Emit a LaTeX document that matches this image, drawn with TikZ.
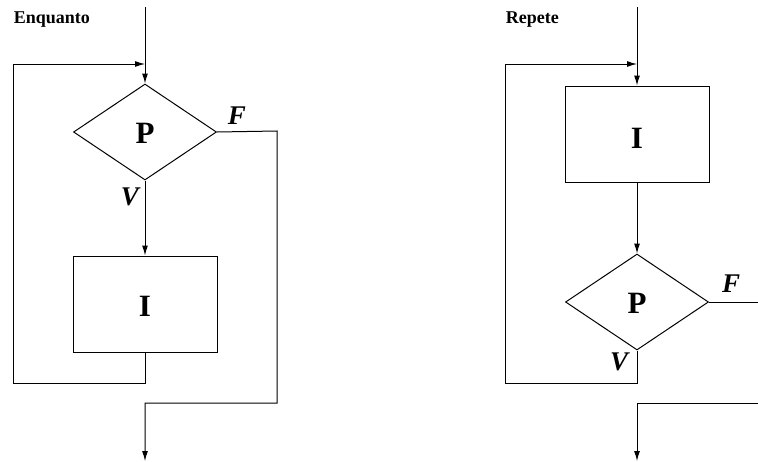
\documentclass[tikz,border=0pt]{standalone}
\usepackage{fontspec}
\setmainfont{Liberation Serif}
\usetikzlibrary{shapes.geometric,arrows.meta}
\begin{document}
\begin{tikzpicture}[x=1pt,y=-1pt,line width=1pt,
  arr/.style={-{Latex[length=10pt,width=6pt]}},
  dec/.style={draw,diamond,inner sep=0pt,minimum width=143pt,minimum height=96pt},
  blk/.style={draw,rectangle,inner sep=0pt,minimum width=144pt,minimum height=96pt},
  big/.style={font=\fontsize{31}{31}\selectfont\bfseries},
  lab/.style={font=\fontsize{27}{27}\selectfont\bfseries\itshape},
  ttl/.style={font=\fontsize{18}{18}\selectfont\bfseries,anchor=west}]
\useasboundingbox (0,0) rectangle (758,461);
% ---- Enquanto ----
\node[ttl] (t1) at (10,20) {Enquanto};
\node[dec] (d1) at (145,132) {};
\node[big] (p1) at (145,133) {P};
\node[blk] (b1) at (145,304) {};
\node[big] (i1) at (145,306) {I};
\node[lab] (f1) at (237,116) {F};
\node[lab] (v1) at (130,197) {V};
\coordinate (s1) at (145,7);
\coordinate (r1) at (13,383);
\coordinate (r2) at (13,64);
\coordinate (r3) at (145,64);
\coordinate (e1) at (277,131);
\coordinate (e2) at (277,403);
\coordinate (e3) at (145,403);
\coordinate (e4) at (145,461);
\draw[arr] (s1) -- (d1.north);
\draw[arr] (d1.south) -- (b1.north);
\draw[arr] (b1.south) |- (r1) -- (r2) -- (r3);
\draw[arr] (d1.east) -- (e1) -- (e2) -- (e3) -- (e4);
% ---- Repete ----
\node[ttl] (t2) at (502,20) {Repete};
\node[blk] (b2) at (637,134) {};
\node[big] (i2) at (637,138) {I};
\node[dec] (d2) at (637,302) {};
\node[big] (p2) at (637,303) {P};
\node[lab] (f2) at (731,284) {F};
\node[lab] (v2) at (619,362) {V};
\coordinate (s2) at (637,7);
\coordinate (q1) at (505,383);
\coordinate (q2) at (505,64);
\coordinate (q3) at (637,64);
\coordinate (g1) at (758,302);
\coordinate (h1) at (758,403);
\coordinate (h2) at (637,403);
\coordinate (h3) at (637,461);
\draw[arr] (s2) -- (b2.north);
\draw[arr] (b2.south) -- (d2.north);
\draw[arr] (d2.south) |- (q1) -- (q2) -- (q3);
\draw (d2.east) -- (g1);
\draw[arr] (h1) -- (h2) -- (h3);
\end{tikzpicture}
\end{document}
